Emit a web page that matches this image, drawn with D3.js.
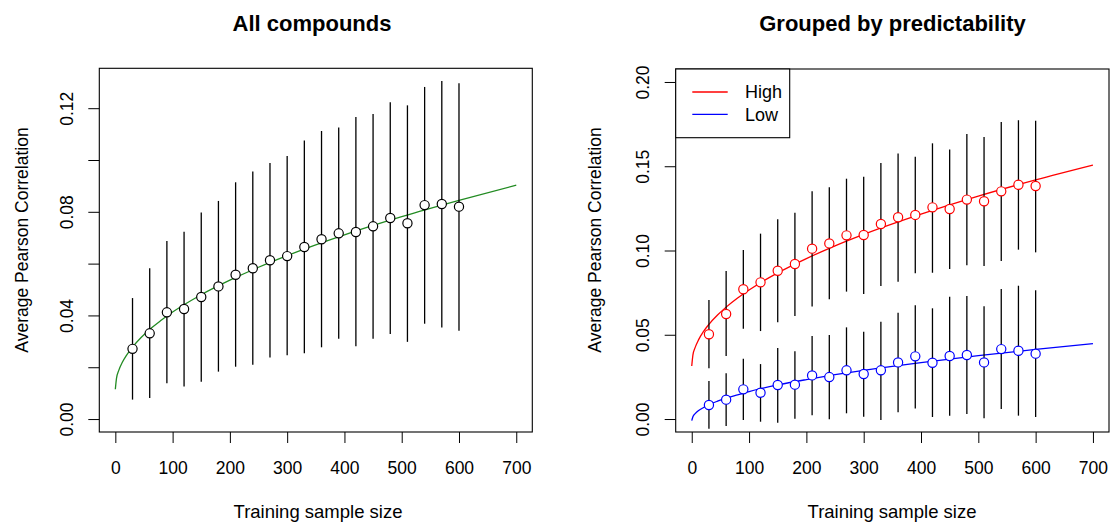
<!DOCTYPE html>
<meta charset="utf-8">
<script src="https://d3js.org/d3.v7.min.js"></script>
<style>
body { margin: 0; background: #fff; }
svg text { font-family: "Liberation Sans", Arial, sans-serif; fill: #000; }
</style>
<div id="chart"></div>
<script>

// training sizes and summary stats
var sizes = [30, 60, 90, 120, 150, 180, 210, 240, 270, 300, 330, 360, 390, 420, 450, 480, 510, 540, 570, 600];

var allMean = [0.0271, 0.0331, 0.0412, 0.0425, 0.0471, 0.0512, 0.0557, 0.0582, 0.0613, 0.0629,
               0.0664, 0.0694, 0.0717, 0.0722, 0.0744, 0.0776, 0.0756, 0.0826, 0.0830, 0.0820];
var allLo   = [0.0075, 0.0081, 0.0138, 0.0126, 0.0144, 0.0183, 0.0202, 0.0210, 0.0238, 0.0246,
               0.0254, 0.0277, 0.0310, 0.0281, 0.0310, 0.0328, 0.0298, 0.0368, 0.0353, 0.0341];
var allHi   = [0.0467, 0.0582, 0.0687, 0.0723, 0.0797, 0.0842, 0.0914, 0.0956, 0.0988, 0.1015,
               0.1075, 0.1112, 0.1125, 0.1166, 0.1178, 0.1223, 0.1211, 0.1282, 0.1305, 0.1296];

var highMean = [0.0503, 0.0623, 0.0770, 0.0811, 0.0880, 0.0920, 0.1011, 0.1042, 0.1090, 0.1092,
                0.1157, 0.1197, 0.1211, 0.1256, 0.1246, 0.1302, 0.1292, 0.1351, 0.1390, 0.1383];
var highLo   = [0.0301, 0.0374, 0.0536, 0.0522, 0.0574, 0.0611, 0.0667, 0.0710, 0.0756, 0.0742,
                0.0789, 0.0815, 0.0865, 0.0868, 0.0890, 0.0912, 0.0908, 0.0938, 0.1005, 0.0989];
var highHi   = [0.0706, 0.0878, 0.1003, 0.1100, 0.1185, 0.1224, 0.1351, 0.1375, 0.1426, 0.1438,
                0.1519, 0.1575, 0.1557, 0.1636, 0.1600, 0.1691, 0.1674, 0.1763, 0.1773, 0.1770];

var lowMean = [0.0083, 0.0115, 0.0176, 0.0156, 0.0202, 0.0204, 0.0259, 0.0249, 0.0289, 0.0267,
               0.0289, 0.0336, 0.0372, 0.0334, 0.0374, 0.0380, 0.0336, 0.0415, 0.0405, 0.0388];
var lowLo   = [-0.0057, -0.0042, -0.0006, -0.0016, -0.0022, 0.0002, 0.0022, -0.0002, 0.0034, 0.0014,
               -0.0006, 0.0040, 0.0063, 0.0012, 0.0020, 0.0030, 0.0004, 0.0059, 0.0020, 0.0012];
var lowHi   = [0.0226, 0.0271, 0.0358, 0.0326, 0.0421, 0.0402, 0.0493, 0.0498, 0.0544, 0.0518,
               0.0577, 0.0631, 0.0675, 0.0657, 0.0726, 0.0730, 0.0669, 0.0772, 0.0791, 0.0764];

// fitted curves
var fitX    = [0, 2, 6, 12, 20, 30, 45, 60, 80, 100, 150, 200, 250, 300, 400, 500, 600, 700];
var fitAll  = [0.0115, 0.0157, 0.0188, 0.0218, 0.0248, 0.0278, 0.0315, 0.0346, 0.0381, 0.0413,
               0.0480, 0.0536, 0.0586, 0.0631, 0.0711, 0.0781, 0.0844, 0.0903];
var fitHigh = [0.0315, 0.0379, 0.0425, 0.0471, 0.0517, 0.0562, 0.0617, 0.0664, 0.0718, 0.0766,
               0.0867, 0.0952, 0.1028, 0.1096, 0.1216, 0.1323, 0.1419, 0.1507];
var fitLow  = [-0.0010, 0.0014, 0.0032, 0.0050, 0.0067, 0.0085, 0.0106, 0.0124, 0.0144, 0.0163,
               0.0202, 0.0234, 0.0263, 0.0289, 0.0335, 0.0376, 0.0413, 0.0447];

var xTicks = [0, 100, 200, 300, 400, 500, 600, 700];
var leftTicks = [0, 0.02, 0.04, 0.06, 0.08, 0.10, 0.12];
var leftLabels = [0, 0.04, 0.08, 0.12];
var rightTicks = [0, 0.05, 0.10, 0.15, 0.20];
var legendNames = ["High", "Low"];
var legendColors = ["#ff0000", "#0000ff"];

var W = 1111, H = 522;

var svg = d3.select("#chart")
  .append("svg")
    .attr("width", W)
    .attr("height", H);

// draws one R-style panel
function panel(opt) {
  var x = d3.scaleLinear().domain([-28, 728]).range([opt.left, opt.right]);
  var y = d3.scaleLinear().domain(opt.ydom).range([432, opt.top]);
  var g = svg.append("g");

  // x axis
  var xa = g.append("g")
    .attr("transform", "translate(0,432)")
    .call(d3.axisBottom(x).tickValues(xTicks).tickSize(11).tickSizeOuter(0).tickPadding(18.5));
  xa.select(".domain").remove();
  xa.selectAll("line").attr("stroke", "#000");
  xa.selectAll("text")
    .style("font-size", "17.5px")
    .attr("fill", "#000");

  // y axis, rotated labels
  var ya = g.append("g")
    .attr("transform", "translate(" + opt.left + ",0)")
    .call(d3.axisLeft(y).tickValues(opt.yticks).tickSize(11).tickSizeOuter(0)
      .tickFormat(opt.yfmt));
  ya.select(".domain").remove();
  ya.selectAll("line").attr("stroke", "#000");
  ya.selectAll("text")
    .attr("x", 0)
    .attr("dy", "0.35em")
    .attr("transform", "translate(-32.6,0) rotate(-90)")
    .attr("text-anchor", "middle")
    .style("font-size", "17.5px")
    .attr("fill", "#000");

  // box
  g.append("rect")
    .attr("x", opt.left)
    .attr("y", opt.top)
    .attr("width", opt.right - opt.left)
    .attr("height", 432 - opt.top)
    .attr("fill", "none")
    .attr("stroke", "#000")
    .attr("stroke-width", 1.1);

  // titles
  g.append("text")
    .attr("x", opt.titleX)
    .attr("y", 31)
    .attr("text-anchor", "middle")
    .style("font-size", "22px")
    .style("font-weight", "bold")
    .text(opt.title);

  g.append("text")
    .attr("x", opt.xlabX)
    .attr("y", 517.5)
    .attr("text-anchor", "middle")
    .style("font-size", "18.5px")
    .text("Training sample size");

  g.append("text")
    .attr("transform", "translate(" + opt.ylabX + ",240) rotate(-90)")
    .attr("dy", "0.35em")
    .attr("text-anchor", "middle")
    .style("font-size", "17.5px")
    .text("Average Pearson Correlation");

  var line = d3.line()
    .x(function(d) { return x(d[0]); })
    .y(function(d) { return y(d[1]); })
    .curve(d3.curveMonotoneX);

  opt.series.forEach(function(s) {
    var rows = sizes.map(function(n, i) {
      return { n: n, m: s.mean[i], lo: s.lo[i], hi: s.hi[i] };
    });

    g.append("path")
      .datum(fitX.map(function(v, i) { return [v, s.fit[i]]; }))
      .attr("d", line)
      .attr("fill", "none")
      .attr("stroke", s.color)
      .attr("stroke-width", 1.3);

    g.selectAll(null)
      .data(rows)
      .enter()
      .append("line")
        .attr("x1", function(d) { return x(d.n); })
        .attr("x2", function(d) { return x(d.n); })
        .attr("y1", function(d) { return y(d.lo); })
        .attr("y2", function(d) { return y(d.hi); })
        .attr("stroke", "#000")
        .attr("stroke-width", 1.3);

    g.selectAll(null)
      .data(rows)
      .enter()
      .append("circle")
        .attr("cx", function(d) { return x(d.n); })
        .attr("cy", function(d) { return y(d.m); })
        .attr("r", 4.6)
        .attr("fill", "#fff")
        .attr("stroke", s.pointColor)
        .attr("stroke-width", 1.2);
  });

  return g;
}

panel({
  left: 99.3, right: 532.3, top: 68.3,
  ydom: [-0.005, 0.1354],
  yticks: leftTicks,
  yfmt: function(v) {
    return leftLabels.some(function(l) { return Math.abs(l - v) < 1e-9; }) ? d3.format(".2f")(v) : "";
  },
  title: "All compounds", titleX: 312, xlabX: 318, ylabX: 21.7,
  series: [
    { mean: allMean, lo: allLo, hi: allHi, fit: fitAll, color: "#228b22", pointColor: "#000" }
  ]
});

var right = panel({
  left: 675.7, right: 1109, top: 69,
  ydom: [-0.0077, 0.2077],
  yticks: rightTicks,
  yfmt: d3.format(".2f"),
  title: "Grouped by predictability", titleX: 892.5, xlabX: 892, ylabX: 595,
  series: [
    { mean: highMean, lo: highLo, hi: highHi, fit: fitHigh, color: legendColors[0], pointColor: legendColors[0] },
    { mean: lowMean, lo: lowLo, hi: lowHi, fit: fitLow, color: legendColors[1], pointColor: legendColors[1] }
  ]
});

// legend
var leg = right.append("g");
leg.append("rect")
  .attr("x", 675.7)
  .attr("y", 69)
  .attr("width", 114)
  .attr("height", 68.7)
  .attr("fill", "#fff")
  .attr("stroke", "#000")
  .attr("stroke-width", 1.1);

legendNames.forEach(function(name, i) {
  var ly = 92 + i * 22.3;
  leg.append("line")
    .attr("x1", 692.3).attr("x2", 727.7)
    .attr("y1", ly).attr("y2", ly)
    .attr("stroke", legendColors[i])
    .attr("stroke-width", 1.3);
  leg.append("text")
    .attr("x", 745)
    .attr("y", ly)
    .attr("dy", "0.36em")
    .style("font-size", "18px")
    .text(name);
});

</script>
